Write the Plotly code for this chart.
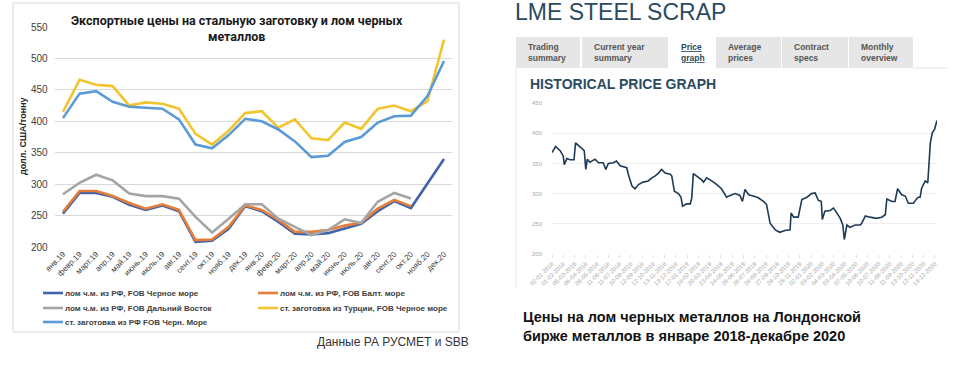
import plotly.graph_objects as go

W, H = 957, 375

# ---------------- Left chart data ----------------
months = ["янв.19", "февр.19", "март.19", "апр.19", "май.19", "июнь.19", "июль.19", "авг.19",
          "сент.19", "окт.19", "нояб.19", "дек.19", "янв.20", "февр.20", "март.20", "апр.20",
          "май.20", "июнь.20", "июль.20", "авг.20", "сент.20", "окт.20", "нояб.20", "дек.20"]

scrap_black_sea = [253, 286, 286, 280, 267, 259, 266, 257, 208, 210, 229, 265,
                   257, 240, 221, 220, 222, 230, 237, 257, 273, 262, 300, 340]
scrap_baltic = [256, 289, 289, 281, 270, 261, 268, 259, 211, 212, 232, 266,
                259, 243, 224, 224, 227, 234, 239, 261, 275, 265, None, None]
scrap_far_east = [284, 302, 315, 306, 285, 281, 281, 277, 248, 223, 245, 268,
                  268, 245, 232, 219, 227, 244, 238, 272, 286, 277, None, None]
billet_turkey = [415, 466, 458, 456, 425, 430, 428, 420, 380, 363, 385, 413,
                 416, 390, 403, 373, 370, 398, 388, 420, 425, 416, 432, 530]
billet_rf = [405, 444, 448, 431, 423, 422, 420, 403, 363, 357, 378, 404,
             400, 387, 368, 343, 345, 367, 375, 398, 408, 409, 440, 496]

series_names = ["лом ч.м. из РФ, FOB Черное море",
                "лом ч.м. из РФ, FOB Балт. море",
                "лом ч.м. из РФ, FOB Дальний Восток",
                "ст. заготовка из Турции, FOB Черное море",
                "ст. заготовка из РФ FOB Черн. Море"]
series_values = [scrap_black_sea, scrap_baltic, scrap_far_east, billet_turkey, billet_rf]
series_colors = ["#3F63AD", "#E67E3A", "#A5A5A5", "#F0C530", "#5B9BD5"]

# ---------------- Right chart data (LME, trading-day index) ----------------
lme_day = [0, 7, 16, 22, 24, 29, 35, 43, 46, 51, 58, 63, 66, 69, 74, 84, 91, 100, 105, 110,
           120, 126, 133, 146, 149, 156, 162, 169, 178, 188, 195, 201, 208, 214, 221, 231, 234,
           239, 247, 252, 255, 263, 270, 273, 276, 283, 292, 296, 302, 312, 322, 331, 341, 348,
           358, 367, 372, 377, 384, 393, 403, 413, 419, 426, 436, 445, 455, 465, 467, 472, 481,
           488, 498, 507, 514, 520, 526, 528, 533, 543, 550, 554, 563, 568, 571, 576, 582, 592,
           602, 605, 612, 621, 634, 644, 651, 654, 664, 670, 675, 683, 690, 696, 706, 711, 715,
           719, 722, 729, 734, 739, 743, 747, 752]
lme_price = [368, 378, 371, 362, 348, 358, 356, 356, 384, 380, 374, 371, 340, 357, 352, 357, 351,
             351, 340, 350, 351, 354, 346, 343, 332, 313, 308, 315, 319, 321, 326, 329, 334, 340,
             334, 332, 329, 304, 300, 294, 279, 283, 283, 293, 333, 329, 323, 319, 326, 321, 315,
             308, 294, 297, 300, 297, 287, 307, 298, 296, 293, 287, 282, 251, 240, 236, 239, 240,
             268, 261, 261, 290, 294, 300, 301, 289, 287, 257, 271, 272, 276, 271, 259, 248, 224,
             248, 244, 248, 248, 251, 263, 261, 259, 261, 265, 291, 287, 287, 308, 298, 296, 284,
             284, 290, 294, 294, 309, 321, 318, 384, 401, 406, 421]

lme_tick_labels = ["02-01-2018", "01-02-2018", "05-03-2018", "06-04-2018", "09-05-2018",
                   "11-06-2018", "11-07-2018", "10-08-2018", "12-09-2018", "12-10-2018",
                   "13-11-2018", "13-12-2018", "17-01-2019", "18-02-2019", "20-03-2019",
                   "23-04-2019", "24-05-2019", "26-06-2019", "26-07-2019", "28-08-2019",
                   "27-09-2019", "29-10-2019", "28-11-2019", "02-01-2020", "03-02-2020",
                   "04-03-2020", "03-04-2020", "07-05-2020", "10-06-2020", "10-07-2020",
                   "11-08-2020", "11-09-2020", "13-10-2020", "12-11-2020", "14-12-2020"]
lme_tick_days = [22 * i for i in range(len(lme_tick_labels))]

tab_labels = ["Trading<br>summary", "Current year<br>summary", "<u>Price</u><br><u>graph</u>",
              "Average<br>prices", "Contract<br>specs", "Monthly<br>overview"]

caption_lines = ["Цены на лом черных металлов на Лондонской",
                 "бирже металлов в январе 2018-декабре 2020"]


def px(x):
    return x / W


def py(y):
    return 1 - y / H


fig = go.Figure()

for name, vals, col in zip(series_names, series_values, series_colors):
    fig.add_trace(go.Scatter(x=months, y=vals, mode="lines", name=name,
                             line=dict(color=col, width=2.6), showlegend=False,
                             xaxis="x", yaxis="y"))

fig.add_trace(go.Scatter(x=lme_day, y=lme_price, mode="lines", name="LME Steel Scrap",
                         line=dict(color="#1E3A55", width=1.6), showlegend=False,
                         xaxis="x2", yaxis="y2"))

shapes = []
annotations = []

# left frame
shapes.append(dict(type="rect", xref="paper", yref="paper", x0=px(13), x1=px(459),
                   y0=py(332), y1=py(3), line=dict(color="#D9D9D9", width=1),
                   fillcolor="rgba(0,0,0,0)", layer="below"))

# left title
annotations.append(dict(text="<b>Экспортные цены на стальную заготовку и лом черных<br>металлов</b>",
                        x=px(237), y=py(28.5), xref="paper", yref="paper", showarrow=False,
                        xanchor="center", yanchor="middle", align="center",
                        font=dict(family="Roboto", size=12.5, color="#1A1A1A")))
# y axis title
annotations.append(dict(text="<b>долл. США/тонну</b>", x=px(23), y=py(136), xref="paper",
                        yref="paper", showarrow=False, textangle=-90,
                        xanchor="center", yanchor="middle",
                        font=dict(family="Arial", size=9, color="#262626")))

# custom legend
leg_pos = [(43, 293), (258, 293), (43, 308), (258, 308), (43, 322)]
for (lx, ly), name, col in zip(leg_pos, series_names, series_colors):
    shapes.append(dict(type="line", xref="paper", yref="paper", x0=px(lx), x1=px(lx + 20),
                       y0=py(ly), y1=py(ly), line=dict(color=col, width=2.6)))
    annotations.append(dict(text="<b>" + name + "</b>", x=px(lx + 20), y=py(ly),
                            xref="paper", yref="paper", showarrow=False,
                            xanchor="left", yanchor="middle",
                            font=dict(family="Arial", size=8, color="#404040")))

annotations.append(dict(text="Данные РА РУСМЕТ и SBB", x=px(471), y=py(342), xref="paper",
                        yref="paper", showarrow=False, xanchor="right", yanchor="middle",
                        font=dict(family="Arial", size=12, color="#333333")))

# ---------------- right side decorations ----------------
annotations.append(dict(text="LME STEEL SCRAP", x=px(513), y=py(-3), xref="paper", yref="paper",
                        showarrow=False, xanchor="left", yanchor="top",
                        font=dict(family="Arial", size=23, color="#2C4A5F")))

tab_edges = [(516, 580), (582, 668), (669, 715), (716, 781), (782, 848), (849, 913)]
for i, ((x0, x1), lab) in enumerate(zip(tab_edges, tab_labels)):
    active = (i == 2)
    shapes.append(dict(type="rect", xref="paper", yref="paper", x0=px(x0), x1=px(x1),
                       y0=py(68), y1=py(37), line=dict(width=0),
                       fillcolor="#FFFFFF" if active else "#E6E6E6", layer="below"))
    annotations.append(dict(text="<b>" + lab + "</b>", x=px(x0 + 10), y=py(52.5), xref="paper",
                            yref="paper", showarrow=False, xanchor="left", yanchor="middle",
                            align="left",
                            font=dict(family="Arial", size=8.5,
                                      color="#2C4A5F" if active else "#555555")))

# panel borders
shapes.append(dict(type="line", xref="paper", yref="paper", x0=px(913), x1=px(948),
                   y0=py(68), y1=py(68), line=dict(color="#E3E3E3", width=1)))
shapes.append(dict(type="line", xref="paper", yref="paper", x0=px(516), x1=px(516),
                   y0=py(68), y1=py(288), line=dict(color="#E8E8E8", width=1)))

annotations.append(dict(text="<b>HISTORICAL PRICE GRAPH</b>", x=px(528), y=py(84), xref="paper",
                        yref="paper", showarrow=False, xanchor="left", yanchor="middle",
                        font=dict(family="Arial", size=14, color="#2C4A5F")))

annotations.append(dict(text="<b>" + "<br>".join(caption_lines) + "</b>", x=px(521), y=py(326),
                        xref="paper", yref="paper", showarrow=False, xanchor="left",
                        yanchor="middle", align="left",
                        font=dict(family="Arial", size=14.5, color="#111111")))

fig.update_layout(
    width=W, height=H,
    margin=dict(l=0, r=0, t=0, b=0, autoexpand=False),
    paper_bgcolor="white", plot_bgcolor="white",
    showlegend=False,
    shapes=shapes, annotations=annotations,
    xaxis=dict(domain=[px(54.7), px(452.3)], anchor="y", type="category",
               range=[-0.5, 23.5], showgrid=False, zeroline=False, showline=False,
               ticks="", tickangle=-45, fixedrange=True, automargin=False,
               tickfont=dict(family="Arial", size=8, color="#404040")),
    yaxis=dict(domain=[py(247), py(27)], anchor="x", range=[200, 550], dtick=50,
               gridcolor="#D9D9D9", gridwidth=1, zeroline=False, showline=False,
               ticks="", ticklabelstandoff=6, automargin=False,
               tickfont=dict(family="Arial", size=10, color="#404040")),
    xaxis2=dict(domain=[px(552), px(937)], anchor="y2", range=[0, 752],
                tickmode="array", tickvals=lme_tick_days, ticktext=lme_tick_labels,
                showgrid=False, zeroline=False, showline=False, automargin=False,
                ticks="outside", ticklen=3, tickcolor="#E0E0E0", tickangle=-45,
                tickfont=dict(family="Arial", size=6, color="#A8A8A8")),
    yaxis2=dict(domain=[py(254), py(103)], anchor="x2", range=[200, 450], dtick=50,
                gridcolor="#EEEEEE", gridwidth=1, zeroline=False, showline=False,
                ticks="", ticklabelstandoff=9, automargin=False,
                tickfont=dict(family="Arial", size=6, color="#A8A8A8")),
)

fig.write_html("out.html", config={"displayModeBar": False},
               post_script="document.body.style.margin='0';document.body.style.padding='0';"
                           "document.body.style.overflow='hidden';")
